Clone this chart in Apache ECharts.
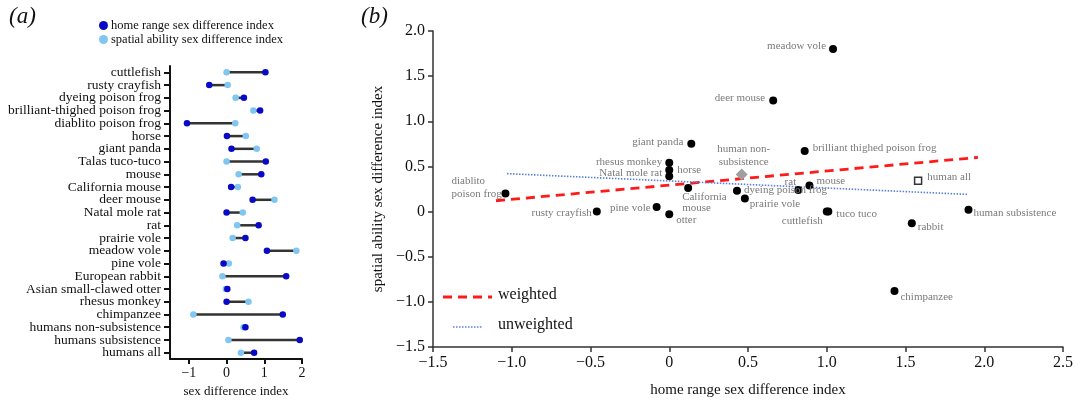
<!DOCTYPE html>
<html><head><meta charset="utf-8">
<script src="https://cdn.jsdelivr.net/npm/echarts@6/dist/echarts.min.js"></script>
<style>html,body{margin:0;padding:0;background:#fff}#c{width:1078px;height:403px}</style>
</head><body><div id="c"></div>
<script>
// ---- Panel (a) data ----
const catA = ['cuttlefish','rusty crayfish','dyeing poison frog','brilliant-thighed poison frog','diablito poison frog','horse','giant panda','Talas tuco-tuco','mouse','California mouse','deer mouse','Natal mole rat','rat','prairie vole','meadow vole','pine vole','European rabbit','Asian small-clawed otter','rhesus monkey','chimpanzee','humans non-subsistence','humans subsistence','humans all'];
const homeA = [1.03,-0.46,0.46,0.89,-1.05,0.01,0.13,1.04,0.92,0.12,0.69,0.0,0.85,0.5,1.07,-0.08,1.58,0.02,0.0,1.49,0.5,1.94,0.73];
const spatialA = [0.0,0.03,0.24,0.71,0.23,0.51,0.8,0.0,0.32,0.3,1.27,0.43,0.28,0.16,1.85,0.06,-0.11,-0.02,0.58,-0.88,0.45,0.05,0.38];
const ticksA = [-1,0,1,2];

// ---- Panel (b) data ----
const namesB = ['meadow vole','deer mouse','brilliant thighed poison frog','mouse','rat','dyeing poison frog','prairie vole','tuco tuco','cuttlefish','rabbit','human subsistence','chimpanzee','giant panda','rhesus monkey','horse','Natal mole rat','diablito\npoison frog','California\nmouse','rusty crayfish','pine vole','otter'];
const homeB = [1.04,0.66,0.86,0.89,0.82,0.43,0.48,1.01,1.0,1.54,1.9,1.43,0.14,0.0,0.0,0.0,-1.04,0.12,-0.46,-0.08,0.0];
const spatialB = [1.80,1.23,0.67,0.29,0.24,0.23,0.145,0.0,0.0,-0.13,0.02,-0.88,0.75,0.54,0.46,0.39,0.2,0.26,0.0,0.05,-0.03];
const humanNonSub = {name:'human non-\nsubsistence', x:0.46, y:0.41};
const humanAll = {name:'human all', x:1.58, y:0.34};
const weightedLine = [[-1.1,0.12],[1.96,0.6]];
const unweightedLine = [[-1.03,0.42],[1.9,0.19]];
const legendB = ['weighted','unweighted'];

// label placements (style only)
const place = {
 'meadow vole':{position:'left',distance:3,offset:[0,-3]},
 'deer mouse':{position:'left',distance:4,offset:[0,-2]},
 'brilliant thighed poison frog':{position:'right',distance:4,offset:[0,-3]},
 'mouse':{position:'right',distance:3,offset:[0,-4]},
 'rat':{position:'top',distance:0,offset:[-8,3]},
 'dyeing poison frog':{position:'right',distance:3,offset:[0,-1]},
 'prairie vole':{position:'right',distance:1,offset:[0,6]},
 'tuco tuco':{position:'right',distance:4,offset:[0,3]},
 'cuttlefish':{position:'left',distance:5,offset:[5,10]},
 'rabbit':{position:'right',distance:2,offset:[0,4]},
 'human subsistence':{position:'right',distance:1,offset:[0,3]},
 'chimpanzee':{position:'right',distance:2,offset:[0,6]},
 'giant panda':{position:'left',distance:4,offset:[0,-2]},
 'rhesus monkey':{position:'left',distance:3,offset:[0,-1]},
 'horse':{position:'right',distance:4,offset:[0,0]},
 'Natal mole rat':{position:'left',distance:3,offset:[0,-3]},
 'diablito\npoison frog':{position:'left',distance:5,align:'left',offset:[-45,-6],lineHeight:13},
 'California\nmouse':{position:'bottom',distance:0,align:'left',offset:[-6,0],lineHeight:11},
 'rusty crayfish':{position:'left',distance:1,offset:[0,2]},
 'pine vole':{position:'left',distance:2,offset:[0,1]},
 'otter':{position:'right',distance:3,offset:[0,6]}
};

const SERIF = '"Liberation Serif","DejaVu Serif",serif';
const DARK = '#0a0ac4', LIGHT = '#80c6f0', LBL = '#7a7a7a';
const RED = '#ff1a1a', BLUE = '#5a7fd8';
const fmtNum = v => v === 0 ? '0' : (v < 0 ? '\u2212' + Math.abs(v) : String(v));
const fmtB = v => v === 0 ? '0' : (v < 0 ? '\u2212' + Math.abs(v).toFixed(1) : v.toFixed(1));

const chart = echarts.init(document.getElementById('c'));

const ptsB = namesB.map((n, i) => {
  const p = place[n] || {position:'right'};
  return {value:[homeB[i], spatialB[i]], name:n,
    label:{show:true, formatter:n, position:p.position, distance:p.distance, offset:p.offset,
      align:p.align, lineHeight:p.lineHeight||13, color:LBL, fontFamily:SERIF, fontSize:11}};
});

chart.setOption({
  animation:false,
  textStyle:{fontFamily:SERIF},
  graphic:[
    {type:'text', left:9, top:5, style:{text:'(a)', font:'italic 23px '+SERIF, fill:'#111'}},
    {type:'text', left:361, top:5, style:{text:'(b)', font:'italic 23px '+SERIF, fill:'#111'}},
    // legend of panel (b)
    {type:'line', shape:{x1:443, y1:297, x2:492, y2:297}, style:{stroke:RED, lineWidth:2.8, lineDash:[9,6]}},
    {type:'text', left:498, top:287, style:{text:legendB[0], font:'16px '+SERIF, fill:'#111'}},
    {type:'line', shape:{x1:453, y1:327, x2:483, y2:327}, style:{stroke:BLUE, lineWidth:1.6, lineDash:[1.5,1.5]}},
    {type:'text', left:498, top:317, style:{text:legendB[1], font:'16px '+SERIF, fill:'#111'}}
  ],
  legend:[
    {orient:'vertical', left:94, top:14, itemGap:1, itemWidth:9, itemHeight:9, icon:'circle',
     textStyle:{fontFamily:SERIF, fontSize:12.5, color:'#111', padding:[0,0,0,-2]},
     data:['home range sex difference index','spatial ability sex difference index']}
  ],
  grid:[
    {left:170, right:776, top:66, bottom:43},
    {left:433, right:15, top:31, bottom:51}
  ],
  xAxis:[
    {gridIndex:0, type:'value', min:-1.5, max:2, splitLine:{show:false},
     name:'sex difference index', nameLocation:'middle', nameGap:24,
     nameTextStyle:{fontFamily:SERIF, fontSize:13, color:'#111'},
     axisLine:{show:true, onZero:false, lineStyle:{color:'#111', width:2}},
     axisTick:{show:true, customValues:ticksA, length:5, lineStyle:{color:'#111', width:2}},
     axisLabel:{customValues:ticksA, formatter:fmtNum, fontFamily:SERIF, fontSize:14, color:'#111', margin:7}},
    {gridIndex:1, type:'value', min:-1.5, max:2.5, interval:0.5, splitLine:{show:false},
     name:'home range sex difference index', nameLocation:'middle', nameGap:36,
     nameTextStyle:{fontFamily:SERIF, fontSize:15, color:'#111'},
     axisLine:{show:true, onZero:false, lineStyle:{color:'#333', width:1.5}},
     axisTick:{show:true, length:5, lineStyle:{color:'#333', width:1.5}},
     axisLabel:{formatter:fmtB, fontFamily:SERIF, fontSize:16, color:'#111', margin:8}}
  ],
  yAxis:[
    {gridIndex:0, type:'category', inverse:true, data:catA, boundaryGap:true, splitLine:{show:false},
     axisLine:{show:true, onZero:false, lineStyle:{color:'#111', width:2}},
     axisTick:{show:true, alignWithLabel:true, interval:0, length:6, lineStyle:{color:'#111', width:2}},
     axisLabel:{interval:0, fontFamily:SERIF, fontSize:13.5, color:'#111', margin:9}},
    {gridIndex:1, type:'value', min:-1.5, max:2, interval:0.5, splitLine:{show:false},
     name:'spatial ability sex difference index', nameLocation:'middle', nameGap:45,
     nameTextStyle:{fontFamily:SERIF, fontSize:15, color:'#111'},
     axisLine:{show:true, onZero:false, lineStyle:{color:'#333', width:1.5}},
     axisTick:{show:true, length:5, lineStyle:{color:'#333', width:1.5}},
     axisLabel:{formatter:fmtB, fontFamily:SERIF, fontSize:16, color:'#111', margin:8}}
  ],
  series:[
    {type:'custom', xAxisIndex:0, yAxisIndex:0, silent:true,
     data:catA.map((_, i) => [homeA[i], spatialA[i], i]),
     encode:{x:[0,1], y:2},
     renderItem:(params, api) => {
       const p1 = api.coord([api.value(0), api.value(2)]);
       const p2 = api.coord([api.value(1), api.value(2)]);
       return {type:'line', shape:{x1:p1[0], y1:p1[1], x2:p2[0], y2:p2[1]}, style:{stroke:'#333', lineWidth:2.5}};
     }},
    {type:'scatter', name:'spatial ability sex difference index', xAxisIndex:0, yAxisIndex:0,
     symbolSize:6.5, itemStyle:{color:LIGHT, opacity:1},
     data:spatialA.map((v, i) => [v, i])},
    {type:'scatter', name:'home range sex difference index', xAxisIndex:0, yAxisIndex:0,
     symbolSize:6.5, itemStyle:{color:DARK, opacity:1},
     data:homeA.map((v, i) => [v, i])},

    {type:'line', name:legendB[0], xAxisIndex:1, yAxisIndex:1, symbol:'none', z:3,
     data:weightedLine, lineStyle:{color:RED, width:2.8, type:[9,6]}, itemStyle:{color:RED}},
    {type:'line', name:legendB[1], xAxisIndex:1, yAxisIndex:1, symbol:'none', z:3,
     data:unweightedLine, lineStyle:{color:BLUE, width:1.6, type:[1.5,1.5]}, itemStyle:{color:BLUE}},
    {type:'scatter', xAxisIndex:1, yAxisIndex:1, symbolSize:8, z:4,
     itemStyle:{color:'#000', opacity:1}, data:ptsB},
    {type:'scatter', xAxisIndex:1, yAxisIndex:1, symbol:'diamond', symbolSize:[12,12], z:4,
     itemStyle:{color:'#a0a0a0', opacity:1},
     data:[{value:[humanNonSub.x, humanNonSub.y], label:{show:true, formatter:humanNonSub.name, position:'top', distance:0, offset:[2,0], lineHeight:13, color:LBL, fontFamily:SERIF, fontSize:11}}]},
    {type:'scatter', xAxisIndex:1, yAxisIndex:1, symbol:'rect', symbolSize:7, z:4,
     itemStyle:{color:'#fff', borderColor:'#333', borderWidth:1.5, opacity:1},
     data:[{value:[humanAll.x, humanAll.y], label:{show:true, formatter:humanAll.name, position:'right', distance:5, offset:[0,-4], color:LBL, fontFamily:SERIF, fontSize:11}}]}
  ]
});
</script></body></html>
